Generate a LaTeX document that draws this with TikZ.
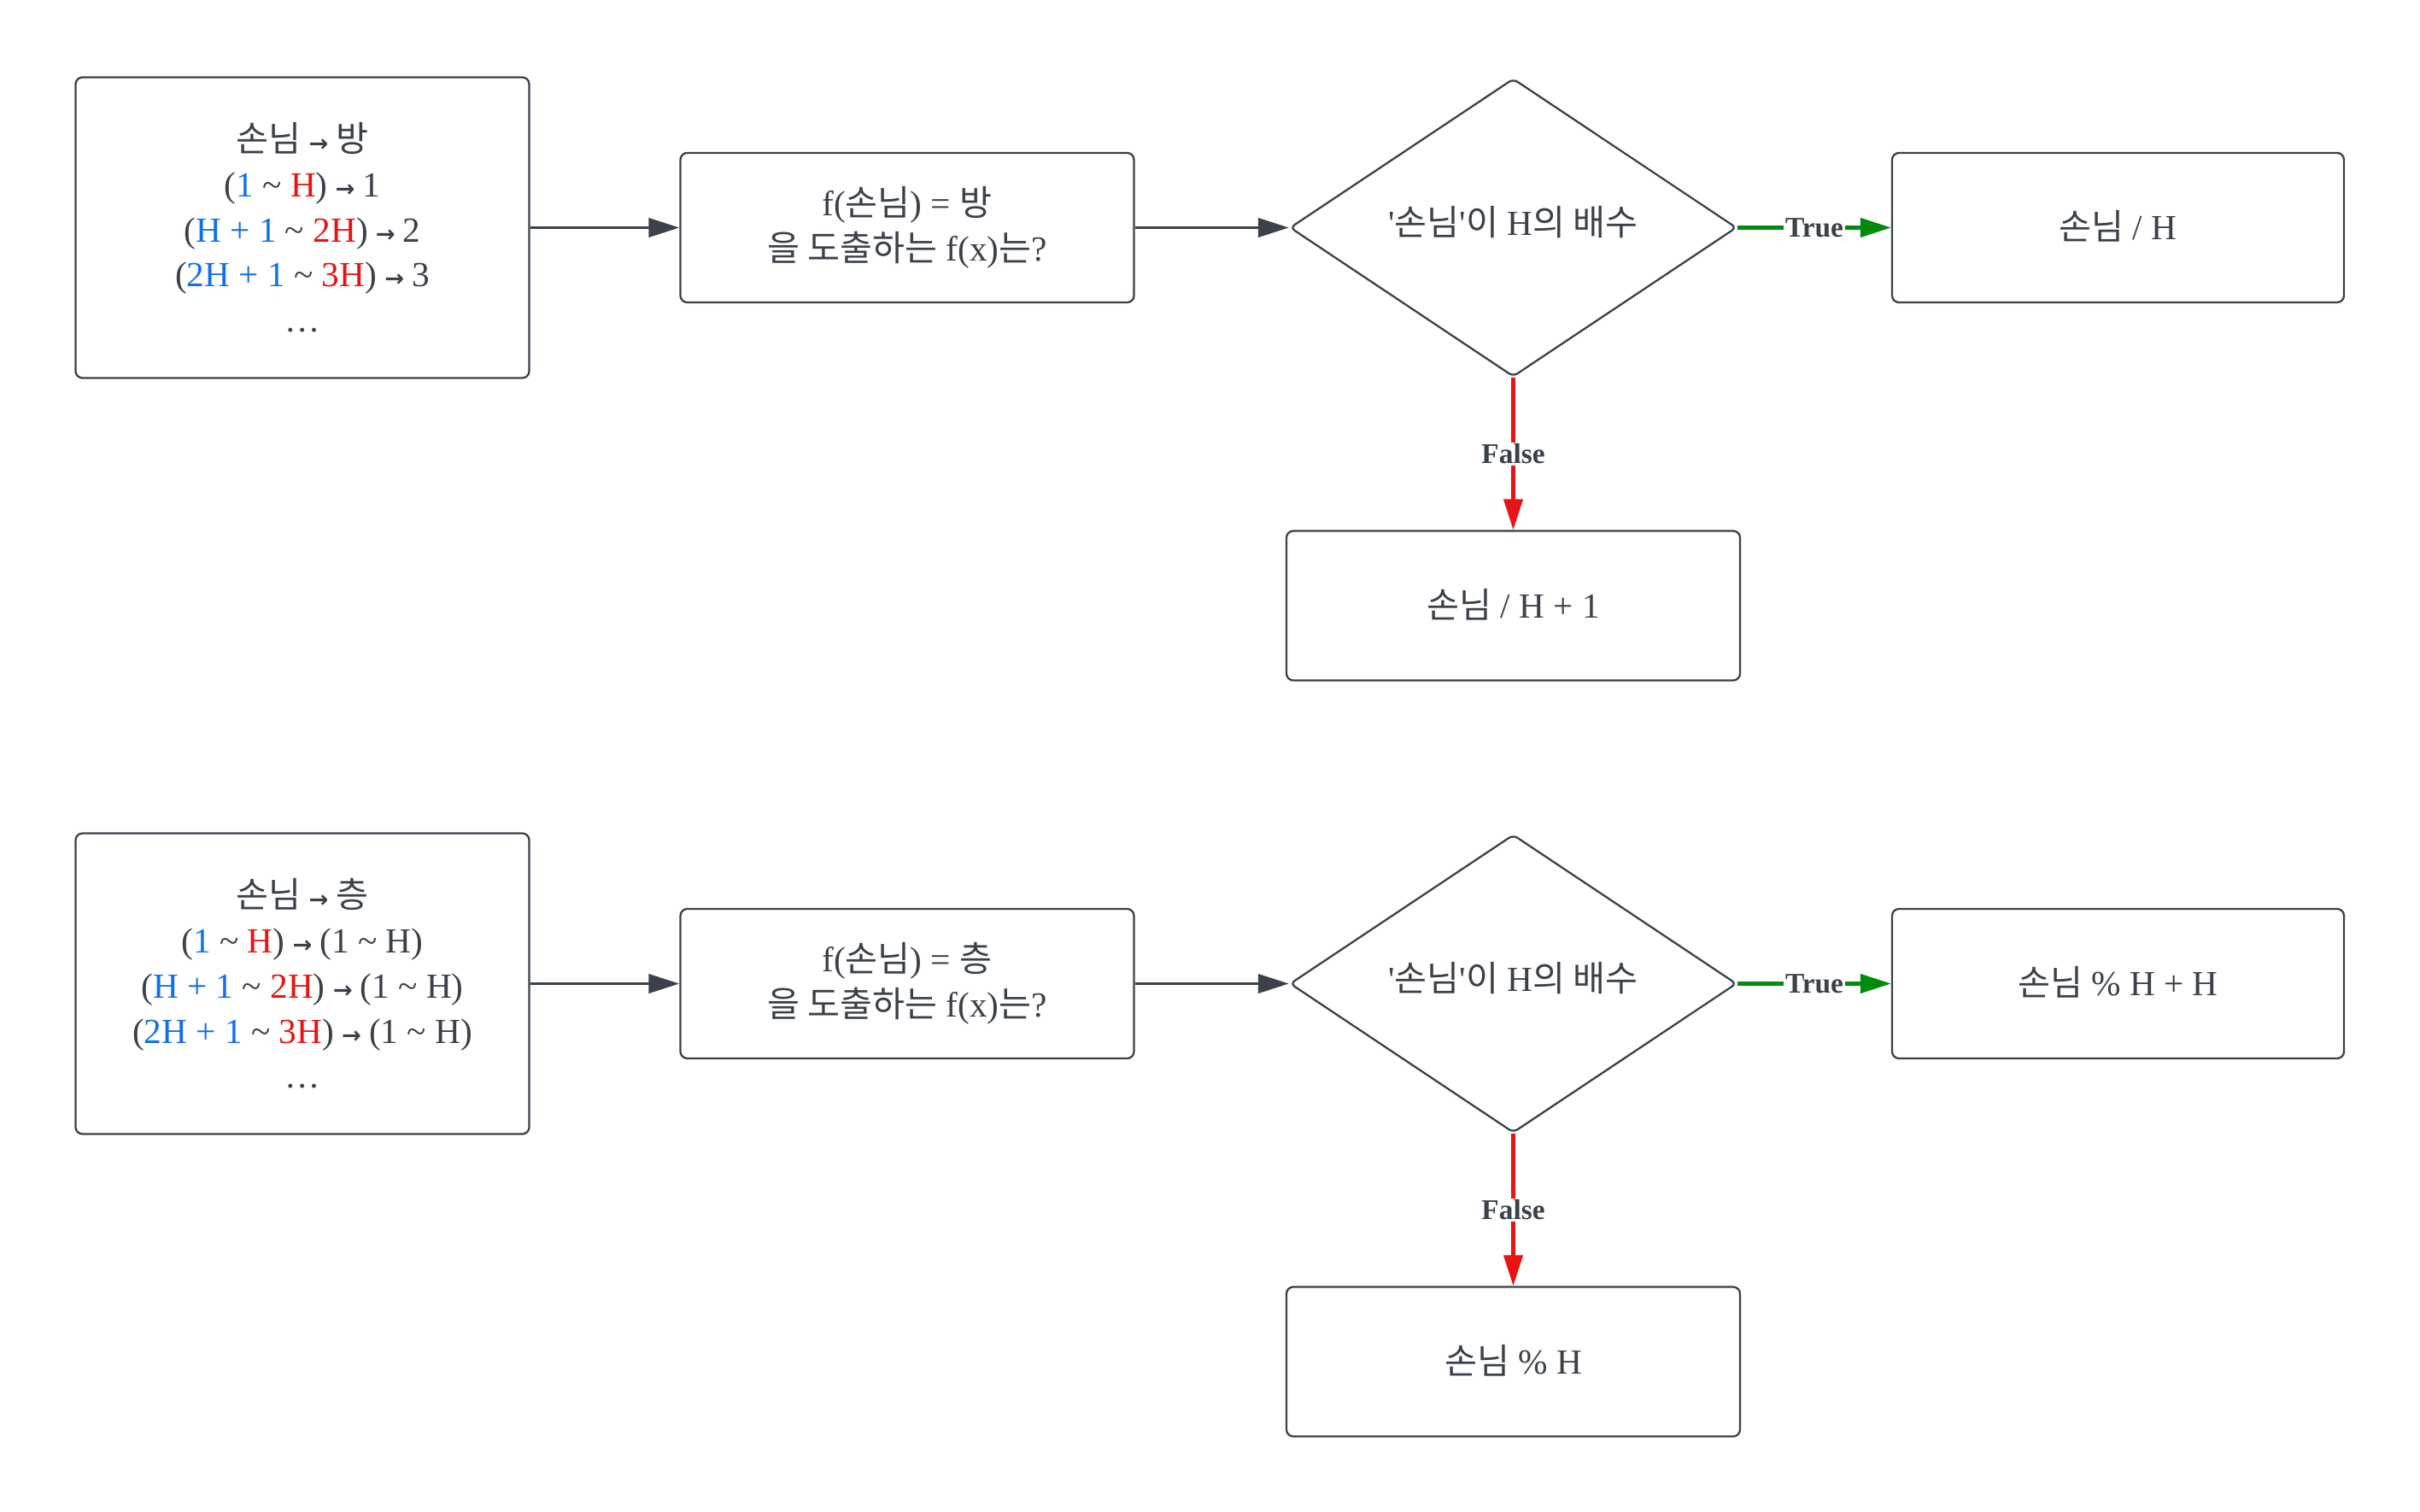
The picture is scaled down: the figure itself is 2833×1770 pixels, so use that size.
\documentclass[tikz,border=0pt]{standalone}
\usepackage{fontspec}
\setmainfont{Liberation Serif}
\newfontfamily\kr{Noto Sans CJK KR}
\newfontfamily\arr{DejaVu Sans}
\usetikzlibrary{shapes.geometric,arrows.meta}
\definecolor{ink}{HTML}{3A414A}
\definecolor{cblue}{HTML}{1071E5}
\definecolor{cred}{HTML}{E81313}
\definecolor{cgreen}{HTML}{008A0E}
\newcommand\K[1]{{\kr #1}}
\newcommand\Bl[1]{\textcolor{cblue}{#1}}
\newcommand\Rd[1]{\textcolor{cred}{#1}}
\newcommand\tl{\textasciitilde}
\newcommand\Ar{\hspace{0.22em}{\arr\bfseries\fontsize{15.5}{15.5}\selectfont →}\hspace{0.22em}}
\newcommand\q{\textquotesingle}
\newcommand\PX{0.02cm}
\tikzset{
  box/.style={draw=ink, line width=1.3pt, rounded corners=0.16cm, fill=white,
    text=ink, align=center, inner sep=0pt, font=\fontsize{23.5}{30}\selectfont},
  decision/.style={diamond, draw=ink, line width=1.3pt, rounded corners=0.12cm,
    fill=white, text=ink, align=center, inner sep=0pt, font=\fontsize{23.5}{30}\selectfont},
  conn/.style={draw=ink, line width=2.2pt, -{Triangle[length=0.72cm,width=0.44cm]}},
  yesarrow/.style={draw=cgreen, line width=2.4pt, -{Triangle[length=0.72cm,width=0.44cm]}},
  noarrow/.style={draw=cred, line width=2.4pt, -{Triangle[length=0.72cm,width=0.44cm]}},
  lab/.style={fill=white, text=ink, inner sep=1pt, font=\fontsize{19}{20}\selectfont\bfseries},
}
\begin{document}
\begin{tikzpicture}[x=0.02cm, y=-0.02cm]
\useasboundingbox[fill=white] (0,0) rectangle (2833,1770);

% ---------- row 1 ----------
\node[box, minimum width=531*\PX, minimum height=352*\PX] (a1) at (354,266.5)
  {\K{손님}\Ar\K{방}\\
   (\Bl{1} \tl{} \Rd{H})\Ar 1\\
   (\Bl{H + 1} \tl{} \Rd{2H})\Ar 2\\
   (\Bl{2H + 1} \tl{} \Rd{3H})\Ar 3\\
   …};
\node[box, minimum width=531*\PX, minimum height=175*\PX] (b1) at (1062,266.5)
  {f(\K{손님}) = \K{방}\\ \K{을 도출하는} f(x)\K{는}?};
\node[decision, minimum width=523*\PX, minimum height=349*\PX] (d1) at (1771.5,266.5)
  {\raisebox{0.34cm}{\q\K{손님}\q\K{이} H\K{의 배수}}};
\node[box, minimum width=529*\PX, minimum height=175*\PX] (t1) at (2479.5,266.5)
  {\raisebox{0.11cm}{\K{손님} / H}};
\node[box, minimum width=531*\PX, minimum height=175*\PX] (f1) at (1771.5,709)
  {\raisebox{0.11cm}{\K{손님} / H + 1}};

\draw[conn] (a1.east) -- (b1.west);
\draw[conn] (b1.east) -- (d1.west);
\draw[yesarrow] (d1.east) -- node[lab] {True} (t1.west);
\draw[noarrow] (d1.south) -- node[lab] {False} (f1.north);

% ---------- row 2 ----------
\node[box, minimum width=531*\PX, minimum height=352*\PX] (a2) at (354,1151.5)
  {\K{손님}\Ar\K{층}\\
   (\Bl{1} \tl{} \Rd{H})\Ar(1 \tl{} H)\\
   (\Bl{H + 1} \tl{} \Rd{2H})\Ar(1 \tl{} H)\\
   (\Bl{2H + 1} \tl{} \Rd{3H})\Ar(1 \tl{} H)\\
   …};
\node[box, minimum width=531*\PX, minimum height=175*\PX] (b2) at (1062,1151.5)
  {f(\K{손님}) = \K{층}\\ \K{을 도출하는} f(x)\K{는}?};
\node[decision, minimum width=523*\PX, minimum height=349*\PX] (d2) at (1771.5,1151.5)
  {\raisebox{0.34cm}{\q\K{손님}\q\K{이} H\K{의 배수}}};
\node[box, minimum width=529*\PX, minimum height=175*\PX] (t2) at (2479.5,1151.5)
  {\raisebox{0.11cm}{\K{손님} \% H + H}};
\node[box, minimum width=531*\PX, minimum height=175*\PX] (f2) at (1771.5,1594)
  {\raisebox{0.11cm}{\K{손님} \% H}};

\draw[conn] (a2.east) -- (b2.west);
\draw[conn] (b2.east) -- (d2.west);
\draw[yesarrow] (d2.east) -- node[lab] {True} (t2.west);
\draw[noarrow] (d2.south) -- node[lab] {False} (f2.north);
\end{tikzpicture}
\end{document}
